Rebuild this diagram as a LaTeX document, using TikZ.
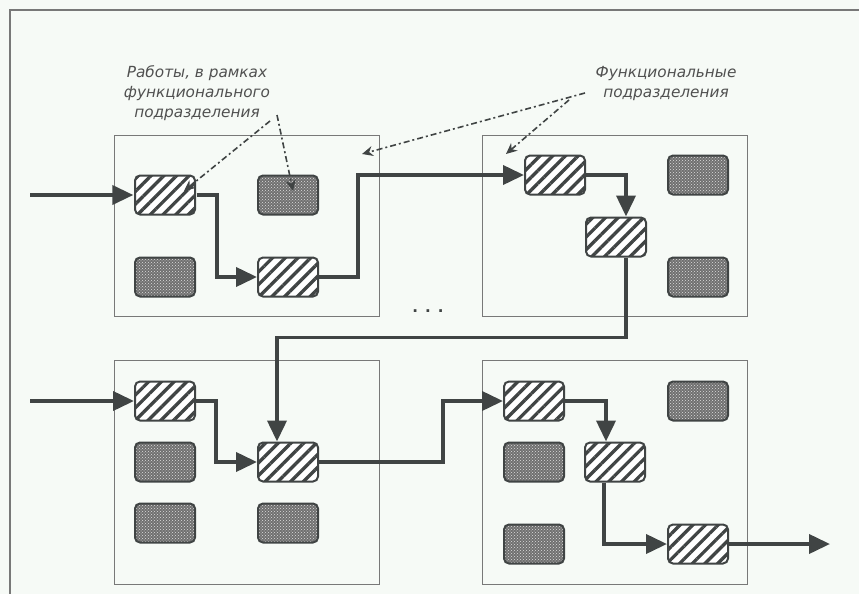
\documentclass[tikz,border=0pt]{standalone}
\usepackage{fontspec}
\setmainfont{DejaVu Sans}
\usetikzlibrary{arrows.meta,patterns,patterns.meta,calc}
\definecolor{bg}{RGB}{246,250,246}
\definecolor{ink}{RGB}{64,68,68}
\definecolor{frame}{RGB}{120,120,120}
\definecolor{txt}{RGB}{80,80,80}
\definecolor{noise}{RGB}{112,112,112}
\begin{document}
\begin{tikzpicture}[x=1pt,y=-1pt,
  unit/.style={draw=frame, line width=1.3pt, minimum width=265pt, anchor=north west, inner sep=0pt},
  task/.style={draw=ink, line width=2pt, rounded corners=5pt, minimum width=60pt, minimum height=39pt, inner sep=0pt},
  hat/.style={task, preaction={fill=white}, pattern={Lines[angle=45,distance=9pt,line width=3.3pt]}, pattern color=ink},
  grey/.style={task, preaction={fill=noise}, pattern=crosshatch dots, pattern color=gray!25},
  flow/.style={draw=ink, line width=3.8pt, -{Triangle[length=21pt,width=19pt]}},
  note/.style={draw=ink, line width=1.6pt, dash pattern=on 6pt off 3pt on 2pt off 3pt, -{Stealth[length=11pt,width=10pt]}},
  lbl/.style={text=txt, font=\fontsize{15.3}{20}\selectfont\itshape, align=center, inner sep=0pt}]
\fill[bg] (0,0) rectangle (859,594);
\useasboundingbox (0,0) rectangle (859,594);
\draw[draw=frame, line width=1.3pt] (859,10) -- (10,10) -- (10,594);
% functional units
\node[unit, minimum height=181pt] (u1) at (114,135) {};
\node[unit, minimum height=181pt] (u2) at (482,135) {};
\node[unit, minimum height=224pt] (u3) at (114,360) {};
\node[unit, minimum height=224pt] (u4) at (482,360) {};
% tasks
\node[hat]  (A) at (165,195) {};
\node[grey] (B) at (288,195) {};
\node[grey] (C) at (165,277) {};
\node[hat]  (D) at (288,277) {};
\node[hat]  (E) at (555,175) {};
\node[grey] (F) at (698,175) {};
\node[hat]  (G) at (616,237) {};
\node[grey] (H) at (698,277) {};
\node[hat]  (I) at (165,401) {};
\node[grey] (J) at (165,462) {};
\node[grey] (K) at (165,523) {};
\node[hat]  (L) at (288,462) {};
\node[grey] (M) at (288,523) {};
\node[hat]  (N) at (534,401) {};
\node[grey] (O) at (698,401) {};
\node[grey] (P) at (534,462) {};
\node[hat]  (Q) at (615,462) {};
\node[grey] (R) at (534,544) {};
\node[hat]  (S) at (698,544) {};
\node[text=ink, font=\bfseries\fontsize{15}{15}\selectfont] (dots) at (428,311) {. . .};
% flow
\coordinate (in1) at (30,195);
\coordinate (in2) at (30,401);
\coordinate (out) at (830,544);
\draw[flow] (in1) -- (A.west);
\draw[flow] (A.east) -- ++(20,0) |- (D.west);
\draw[flow] (D.east) -- ++(39,0) |- (E.west);
\draw[flow] (E.east) -| ([xshift=10pt]G.north);
\draw[flow] ([xshift=10pt]G.south) -- ++(0,80) -| ([xshift=-11pt]L.north);
\draw[flow] (in2) -- (I.west);
\draw[flow] (I.east) -- ++(20,0) |- (L.west);
\draw[flow] (L.east) -- ++(124,0) |- (N.west);
\draw[flow] (N.east) -| ([xshift=-9pt]Q.north);
\draw[flow] ([xshift=-11pt]Q.south) |- (S.west);
\draw[flow] (S.east) -- (out);
% labels
\node[lbl] (t1) at (197,93) {Работы, в рамках\\функционального\\подразделения};
\node[lbl] (t2) at (666,84) {Функциональные\\подразделения};
\coordinate (s1) at (270,121);
\coordinate (s2) at (277,115);
\coordinate (s3) at (585,93);
\coordinate (s4) at (569,100);
\coordinate (e1) at (184,191);
\coordinate (e2) at (293,191);
\coordinate (e3) at (362,154);
\coordinate (e4) at (506,154);
\draw[note] (s1) -- (e1);
\draw[note] (s2) -- (e2);
\draw[note] (s3) -- (e3);
\draw[note] (s4) -- (e4);
\end{tikzpicture}
\end{document}
